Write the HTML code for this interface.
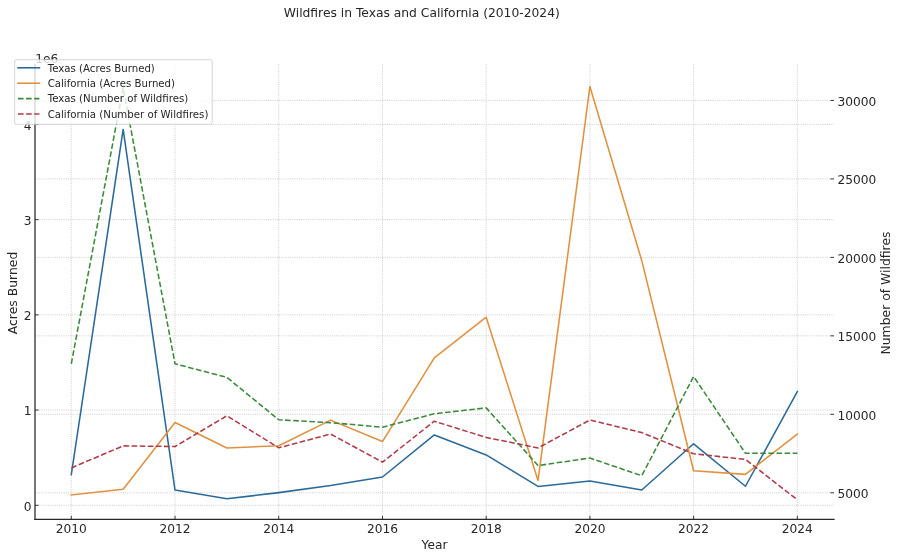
<!DOCTYPE html>
<html><head><meta charset="utf-8"><title>Wildfires in Texas and California (2010-2024)</title>
<style>html,body{margin:0;padding:0;background:#fff;width:900px;height:559px;overflow:hidden}svg{display:block;will-change:transform}</style></head><body>
<svg width="900" height="559" viewBox="0 0 900 559">
<rect width="900" height="559" fill="#ffffff"/>
<g stroke="#b8b8b8" stroke-width="0.8" stroke-dasharray="0.85,1.35" fill="none">
<line x1="71.30" y1="64.3" x2="71.30" y2="519.4"/>
<line x1="175.02" y1="64.3" x2="175.02" y2="519.4"/>
<line x1="278.74" y1="64.3" x2="278.74" y2="519.4"/>
<line x1="382.46" y1="64.3" x2="382.46" y2="519.4"/>
<line x1="486.18" y1="64.3" x2="486.18" y2="519.4"/>
<line x1="589.90" y1="64.3" x2="589.90" y2="519.4"/>
<line x1="693.62" y1="64.3" x2="693.62" y2="519.4"/>
<line x1="797.34" y1="64.3" x2="797.34" y2="519.4"/>
<line x1="35.0" y1="505.30" x2="834.0" y2="505.30"/>
<line x1="35.0" y1="410.08" x2="834.0" y2="410.08"/>
<line x1="35.0" y1="314.85" x2="834.0" y2="314.85"/>
<line x1="35.0" y1="219.62" x2="834.0" y2="219.62"/>
<line x1="35.0" y1="124.40" x2="834.0" y2="124.40"/>
<line x1="35.0" y1="492.80" x2="834.0" y2="492.80"/>
<line x1="35.0" y1="414.32" x2="834.0" y2="414.32"/>
<line x1="35.0" y1="335.85" x2="834.0" y2="335.85"/>
<line x1="35.0" y1="257.38" x2="834.0" y2="257.38"/>
<line x1="35.0" y1="178.90" x2="834.0" y2="178.90"/>
<line x1="35.0" y1="100.43" x2="834.0" y2="100.43"/>
</g>
<g fill="none" stroke-width="1.55" stroke-linejoin="round">
<polyline points="71.30,474.54 123.16,129.45 175.02,490.06 226.88,498.82 278.74,492.64 330.60,485.59 382.46,477.02 434.32,434.93 486.18,454.93 538.04,486.45 589.90,481.02 641.76,489.97 693.62,443.78 745.48,486.25 797.34,391.51" stroke="#2a6a9a" stroke-linecap="square"/>
<polyline points="71.30,494.95 123.16,489.25 175.02,422.49 226.88,448.01 278.74,445.73 330.60,420.12 382.46,441.54 434.32,357.85 486.18,317.22 538.04,480.56 589.90,86.52 641.76,260.67 693.62,470.79 745.48,474.36 797.34,434.21" stroke="#e0913e" stroke-linecap="square"/>
<polyline points="71.30,363.82 123.16,87.87 175.02,363.80 226.88,377.39 278.74,419.77 330.60,422.66 382.46,427.19 434.32,413.76 486.18,407.87 538.04,465.54 589.90,458.04 641.76,475.71 693.62,376.50 745.48,453.25 797.34,453.25" stroke="#3a8a3a" stroke-dasharray="5.6,2.5" stroke-linecap="butt"/>
<polyline points="71.30,467.92 123.16,445.89 175.02,446.50 226.88,415.78 278.74,447.83 330.60,434.02 382.46,462.13 434.32,421.23 486.18,437.44 538.04,447.91 589.90,419.99 641.76,432.61 693.62,453.72 745.48,459.42 797.34,499.80" stroke="#b03a48" stroke-dasharray="5.6,2.5" stroke-linecap="butt"/>
</g>
<g stroke="#262626" stroke-width="1.25" fill="none" stroke-linecap="square">
<line x1="35.0" y1="64.3" x2="35.0" y2="519.4"/>
<line x1="35.0" y1="519.4" x2="834.0" y2="519.4"/>
</g>
<g stroke="#262626" stroke-width="0.9" fill="none">
<line x1="71.30" y1="519.4" x2="71.30" y2="515.8"/>
<line x1="175.02" y1="519.4" x2="175.02" y2="515.8"/>
<line x1="278.74" y1="519.4" x2="278.74" y2="515.8"/>
<line x1="382.46" y1="519.4" x2="382.46" y2="515.8"/>
<line x1="486.18" y1="519.4" x2="486.18" y2="515.8"/>
<line x1="589.90" y1="519.4" x2="589.90" y2="515.8"/>
<line x1="693.62" y1="519.4" x2="693.62" y2="515.8"/>
<line x1="797.34" y1="519.4" x2="797.34" y2="515.8"/>
<line x1="35.0" y1="505.30" x2="38.6" y2="505.30"/>
<line x1="35.0" y1="410.08" x2="38.6" y2="410.08"/>
<line x1="35.0" y1="314.85" x2="38.6" y2="314.85"/>
<line x1="35.0" y1="219.62" x2="38.6" y2="219.62"/>
<line x1="35.0" y1="124.40" x2="38.6" y2="124.40"/>
<line x1="834.0" y1="492.80" x2="830.4" y2="492.80"/>
<line x1="834.0" y1="414.32" x2="830.4" y2="414.32"/>
<line x1="834.0" y1="335.85" x2="830.4" y2="335.85"/>
<line x1="834.0" y1="257.38" x2="830.4" y2="257.38"/>
<line x1="834.0" y1="178.90" x2="830.4" y2="178.90"/>
<line x1="834.0" y1="100.43" x2="830.4" y2="100.43"/>
</g>
<g font-family="'DejaVu Sans','Liberation Sans',sans-serif" font-size="12.2" fill="#262626">
<text x="71.30" y="533.2" text-anchor="middle">2010</text>
<text x="175.02" y="533.2" text-anchor="middle">2012</text>
<text x="278.74" y="533.2" text-anchor="middle">2014</text>
<text x="382.46" y="533.2" text-anchor="middle">2016</text>
<text x="486.18" y="533.2" text-anchor="middle">2018</text>
<text x="589.90" y="533.2" text-anchor="middle">2020</text>
<text x="693.62" y="533.2" text-anchor="middle">2022</text>
<text x="797.34" y="533.2" text-anchor="middle">2024</text>
<text x="31.6" y="510.60" text-anchor="end">0</text>
<text x="31.6" y="415.38" text-anchor="end">1</text>
<text x="31.6" y="320.15" text-anchor="end">2</text>
<text x="31.6" y="224.93" text-anchor="end">3</text>
<text x="31.6" y="129.70" text-anchor="end">4</text>
<text x="837.6" y="498.00">5000</text>
<text x="837.6" y="419.52">10000</text>
<text x="837.6" y="341.05">15000</text>
<text x="837.6" y="262.57">20000</text>
<text x="837.6" y="184.10">25000</text>
<text x="837.6" y="105.63">30000</text>
</g>
<g font-family="'DejaVu Sans','Liberation Sans',sans-serif" font-size="12.2" fill="#262626">
<text x="434.5" y="549.4" text-anchor="middle">Year</text>
<text transform="translate(16.6,293) rotate(-90)" font-size="12.4" text-anchor="middle">Acres Burned</text>
<text transform="translate(889.9,293) rotate(-90)" font-size="12.4" text-anchor="middle">Number of Wildfires</text>
<text x="421.8" y="17" font-size="12.3" text-anchor="middle">Wildfires in Texas and California (2010-2024)</text>
<text x="35.2" y="62.6">1e6</text>
</g>
<rect x="14.7" y="59.7" width="197.50" height="64.60" rx="1.6" ry="1.6" fill="#ffffff" fill-opacity="0.8" stroke="#cccccc" stroke-opacity="0.8" stroke-width="1"/>
<g font-family="'DejaVu Sans','Liberation Sans',sans-serif" font-size="10.2" fill="#262626">
<line x1="18.0" y1="67.80" x2="39.4" y2="67.80" stroke="#2a6a9a" stroke-width="1.55" stroke-linecap="square"/>
<text x="47.7" y="71.60">Texas (Acres Burned)</text>
<line x1="18.0" y1="83.20" x2="39.4" y2="83.20" stroke="#e0913e" stroke-width="1.55" stroke-linecap="square"/>
<text x="47.7" y="87.00">California (Acres Burned)</text>
<line x1="18.0" y1="98.60" x2="39.4" y2="98.60" stroke="#3a8a3a" stroke-width="1.55" stroke-linecap="butt" stroke-dasharray="5.6,2.5"/>
<text x="47.7" y="102.40">Texas (Number of Wildfires)</text>
<line x1="18.0" y1="114.00" x2="39.4" y2="114.00" stroke="#b03a48" stroke-width="1.55" stroke-linecap="butt" stroke-dasharray="5.6,2.5"/>
<text x="47.7" y="117.80">California (Number of Wildfires)</text>
</g>
</svg>
</body></html>
